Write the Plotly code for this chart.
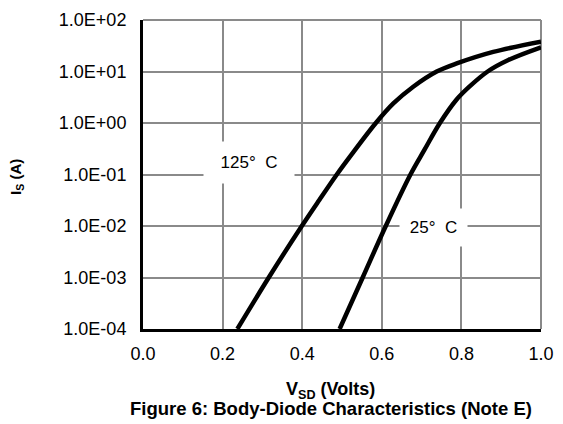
import plotly.graph_objects as go

# 125 deg C curve (V_SD in volts, I_S in amps)
v125 = [0.237, 0.316, 0.399, 0.443, 0.487, 0.52, 0.585, 0.629, 0.679, 0.738, 0.79, 0.88, 1.0]
i125 = [1e-4, 1e-3, 1e-2, 0.032, 0.1, 0.222, 1.0, 2.4, 5.07, 10.0, 14.5, 24.0, 38.0]

# 25 deg C curve
v25 = [0.494, 0.552, 0.61, 0.672, 0.707, 0.746, 0.787, 0.82, 0.866, 0.918, 1.0]
i25 = [1e-4, 1e-3, 1e-2, 0.1, 0.3, 1.0, 2.8, 5.07, 10.0, 16.7, 29.5]

x_ticks = [0.0, 0.2, 0.4, 0.6, 0.8, 1.0]
x_ticktext = ["0.0", "0.2", "0.4", "0.6", "0.8", "1.0"]
y_ticks = [1e-4, 1e-3, 1e-2, 1e-1, 1e0, 1e1, 1e2]
y_ticktext = ["1.0E-04", "1.0E-03", "1.0E-02", "1.0E-01", "1.0E+00", "1.0E+01", "1.0E+02"]

FONT = "Liberation Sans, Arial, sans-serif"
GRID = "#8a8a8a"

fig = go.Figure()
fig.add_trace(go.Scatter(x=v125, y=i125, mode="lines", line=dict(color="black", width=4.5, shape="spline", smoothing=1.0),
                         showlegend=False, hoverinfo="skip"))
fig.add_trace(go.Scatter(x=v25, y=i25, mode="lines", line=dict(color="black", width=4.5, shape="spline", smoothing=1.0),
                         showlegend=False, hoverinfo="skip"))

fig.update_layout(
    width=563, height=424,
    margin=dict(l=143, r=22, t=20, b=95, autoexpand=False),
    paper_bgcolor="white", plot_bgcolor="white",
    font=dict(family=FONT, size=18, color="black"),
    xaxis=dict(range=[0, 1], tickvals=x_ticks, ticktext=x_ticktext, showgrid=True, gridcolor=GRID, gridwidth=2,
               showline=True, linecolor="black", linewidth=3, ticks="", ticklabelstandoff=6,
               zeroline=False, tickfont=dict(size=18), automargin=False),
    yaxis=dict(type="log", range=[-4, 2], tickvals=y_ticks, ticktext=y_ticktext, showgrid=True, gridcolor=GRID, gridwidth=2,
               showline=True, linecolor="black", linewidth=3, ticks="", ticklabelstandoff=10,
               zeroline=False, tickfont=dict(size=18), automargin=False),
)

# border lines on top/right drawn like gridlines
fig.add_shape(type="line", xref="paper", yref="paper", x0=0, x1=1, y0=1, y1=1, line=dict(color=GRID, width=2), layer="below")
fig.add_shape(type="line", xref="paper", yref="paper", x0=1, x1=1, y0=0, y1=1, line=dict(color=GRID, width=2), layer="below")

fig.add_annotation(x=0.266, y=-0.767, xref="x", yref="y", text="125°\u00a0 C", showarrow=False,
                   font=dict(size=17, family=FONT), bgcolor="white", width=88, height=39)
fig.add_annotation(x=0.731, y=-2.03, xref="x", yref="y", text="25°\u00a0 C", showarrow=False,
                   font=dict(size=17, family=FONT), bgcolor="white", width=65, height=35)

fig.add_annotation(x=-0.3166, y=0.492, xref="paper", yref="paper", text="<b>I<sub>S</sub> (A)</b>", textangle=-90,
                   showarrow=False, font=dict(size=15, family=FONT), xanchor="center", yanchor="middle")
fig.add_annotation(x=0.472, y=-0.2, xref="paper", yref="paper", text="<b>V<sub>SD</sub> (Volts)</b>",
                   showarrow=False, font=dict(size=18, family=FONT), xanchor="center", yanchor="middle")
fig.add_annotation(x=0.472, y=-0.257, xref="paper", yref="paper", text="<b>Figure 6: Body-Diode Characteristics (Note E)</b>",
                   showarrow=False, font=dict(size=18.5, family=FONT), xanchor="center", yanchor="middle")

fig.write_html("out.html", config={"displayModeBar": False},
               post_script="document.body.style.margin='0';document.body.style.overflow='hidden';")
